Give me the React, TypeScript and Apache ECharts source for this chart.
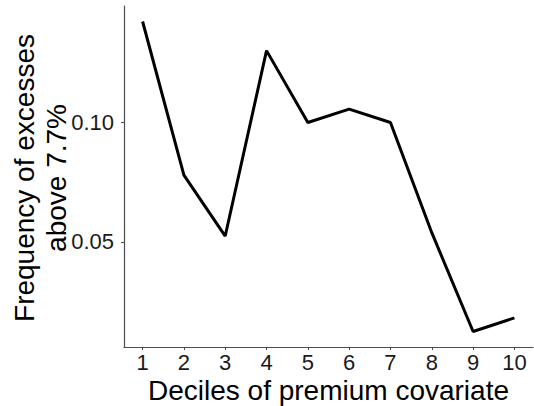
import React, { useEffect, useRef } from "react";
import * as echarts from "echarts";

const deciles = [1, 2, 3, 4, 5, 6, 7, 8, 9, 10];
const frequency = [0.1423, 0.0779, 0.0524, 0.1301, 0.1, 0.1056, 0.1, 0.0538, 0.0124, 0.0181];
const yTicks = [0.05, 0.1];
const xTitle = "Deciles of premium covariate";
const yTitle = "Frequency of excesses\nabove 7.7%";

export default function App() {
  const ref = useRef<HTMLDivElement>(null);

  useEffect(() => {
    if (!ref.current) return;
    const chart = echarts.init(ref.current, null, { renderer: "svg" });
    const font = "'Liberation Sans', Arial, sans-serif";
    const axisGray = "#4d4d4d";
    chart.setOption({
      animation: false,
      grid: {
        left: 124,
        right: 1,
        top: 6,
        bottom: 59,
        containLabel: false,
        outerBoundsMode: "none",
      },
      xAxis: {
        type: "value",
        min: 0.55,
        max: 10.45,
        splitLine: { show: false },
        axisLine: { lineStyle: { color: axisGray, width: 1.2 } },
        axisTick: { customValues: deciles, length: 3, lineStyle: { color: axisGray } },
        axisLabel: {
          customValues: deciles,
          fontSize: 22,
          lineHeight: 22,
          color: "#1a1a1a",
          fontFamily: font,
          margin: 4,
        },
        name: xTitle,
        nameLocation: "middle",
        nameMoveOverlap: false,
        nameGap: 43,
        nameTextStyle: {
          fontSize: 28,
          lineHeight: 28,
          color: "#000",
          fontFamily: font,
          verticalAlign: "middle",
        },
      },
      yAxis: {
        type: "value",
        min: 0.0059,
        max: 0.1488,
        splitLine: { show: false },
        axisLine: { show: true, lineStyle: { color: axisGray, width: 1.2 } },
        axisTick: { show: true, customValues: yTicks, length: 3, lineStyle: { color: axisGray } },
        axisLabel: {
          customValues: yTicks,
          formatter: (v: number) => v.toFixed(2),
          fontSize: 22,
          color: "#1a1a1a",
          fontFamily: font,
          margin: 10,
        },
      },
      graphic: [
        {
          type: "text",
          x: 40,
          y: 178,
          rotation: Math.PI / 2,
          style: {
            text: yTitle,
            fontSize: 28,
            lineHeight: 32,
            fontFamily: font,
            fill: "#000",
            align: "center",
            verticalAlign: "middle",
          },
        },
      ],
      series: [
        {
          type: "line",
          data: deciles.map((d, i) => [d, frequency[i]]),
          symbol: "none",
          lineStyle: { color: "#000", width: 3 },
        },
      ],
    });
    return () => chart.dispose();
  }, []);

  return (
    <div
      ref={ref}
      style={{ position: "fixed", left: 0, top: 0, width: 534, height: 406, background: "#fff" }}
    />
  );
}
